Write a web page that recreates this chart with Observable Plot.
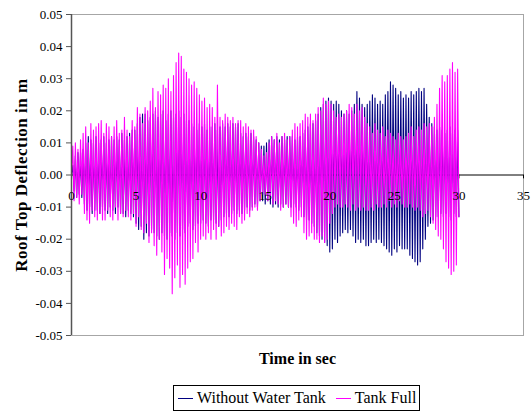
<!DOCTYPE html>
<html>
<head>
<meta charset="utf-8">
<script src="https://cdn.jsdelivr.net/npm/d3@7"></script>
<script src="https://cdn.jsdelivr.net/npm/@observablehq/plot@0.6"></script>
<style>
  body { margin: 0; background: #fff; font-family: "Times New Roman", "Liberation Serif", serif; }
  #legend {
    display: inline-flex; align-items: center; box-sizing: border-box;
    margin: 10px 0 0 173px; height: 26px; padding: 0 3px 0 4px;
    border: 1px solid #000; font-size: 16px; color: #000; white-space: nowrap;
  }
  #legend .item { display: inline-flex; align-items: center; margin-right: 10px; }
  #legend .item:last-child { margin-right: 0; }
  #legend .swatch { display: inline-block; width: 15px; height: 0; border-top: 1px solid; margin-right: 4px; }
  #chart svg text { font-family: "Times New Roman", "Liberation Serif", serif; }
</style>
</head>
<body>
<div id="chart"></div>
<div id="legend"></div>
<script>
// Roof top deflection (m) sampled every dt seconds, 0 to 30 s
const dt = 0.1;

const withoutTank = [
  0, 0.003, -0.005, 0.006, -0.007, 0.007, -0.006, 0.007, -0.007, 0.008,
  -0.009, 0.010, -0.011, 0.012, -0.010, 0.011, -0.012, 0.010, -0.011, 0.012,
  -0.011, 0.010, -0.012, 0.011, -0.010, 0.012, -0.011, 0.010, -0.012, 0.011,
  -0.010, 0.012, -0.011, 0.011, -0.012, 0.012, -0.010, 0.011, -0.012, 0.013,
  -0.012, 0.011, -0.013, 0.012, -0.011, 0.013, -0.012, 0.014, -0.013, 0.014,
  -0.015, 0.016, -0.017, 0.018, -0.016, 0.019, -0.020, 0.019, -0.018, 0.017,
  -0.019, 0.018, -0.017, 0.019, -0.018, 0.020, -0.019, 0.018, -0.020, 0.019,
  -0.018, 0.020, -0.019, 0.017, -0.020, 0.019, -0.018, 0.020, -0.019, 0.018,
  -0.020, 0.019, -0.018, 0.020, -0.019, 0.018, -0.017, 0.019, -0.018, 0.017,
  -0.016, 0.017, -0.015, 0.016, -0.017, 0.015, -0.016, 0.014, -0.015, 0.016,
  -0.015, 0.015, -0.014, 0.016, -0.015, 0.014, -0.016, 0.015, -0.014, 0.015,
  -0.014, 0.016, -0.015, 0.014, -0.016, 0.015, -0.014, 0.016, -0.013, 0.015,
  -0.012, 0.016, -0.013, 0.015, -0.012, 0.016, -0.011, 0.015, -0.012, 0.016,
  -0.011, 0.013, -0.012, 0.012, -0.011, 0.013, -0.010, 0.012, -0.011, 0.013,
  -0.010, 0.012, -0.009, 0.011, -0.010, 0.010, -0.008, 0.009, -0.008, 0.009,
  -0.009, 0.010, -0.008, 0.011, -0.009, 0.012, -0.010, 0.011, -0.009, 0.012,
  -0.010, 0.011, -0.009, 0.012, -0.010, 0.011, -0.009, 0.012, -0.010, 0.012,
  -0.010, 0.012, -0.009, 0.011, -0.010, 0.012, -0.011, 0.012, -0.010, 0.013,
  -0.013, 0.014, -0.014, 0.015, -0.014, 0.016, -0.015, 0.016, -0.016, 0.017,
  -0.018, 0.019, -0.019, 0.021, -0.020, 0.022, -0.021, 0.023, -0.022, 0.024,
  -0.024, 0.023, -0.023, 0.022, -0.020, 0.023, -0.021, 0.022, -0.019, 0.020,
  -0.018, 0.019, -0.017, 0.020, -0.018, 0.019, -0.017, 0.020, -0.019, 0.022,
  -0.021, 0.026, -0.020, 0.024, -0.021, 0.022, -0.020, 0.021, -0.022, 0.022,
  -0.022, 0.023, -0.021, 0.025, -0.020, 0.024, -0.021, 0.022, -0.020, 0.023,
  -0.021, 0.022, -0.022, 0.025, -0.023, 0.026, -0.024, 0.029, -0.025, 0.028,
  -0.023, 0.027, -0.024, 0.025, -0.022, 0.026, -0.023, 0.024, -0.023, 0.025,
  -0.023, 0.024, -0.025, 0.026, -0.026, 0.025, -0.027, 0.026, -0.028, 0.027,
  -0.027, 0.026, -0.023, 0.027, -0.020, 0.022, -0.016, 0.018, -0.015, 0.016,
  -0.014, 0.015, -0.013, 0.014, -0.013, 0.015, -0.012, 0.014, -0.013, 0.013,
  -0.012, 0.014, -0.013, 0.015, -0.014, 0.013, -0.012, 0.014, -0.013, 0.014,
  -0.013
];

const tankFull = [
  0, 0.009, -0.008, 0.010, -0.007, 0.008, -0.009, 0.011, -0.006, 0.013,
  -0.012, 0.015, -0.014, 0.010, -0.015, 0.016, -0.011, 0.014, -0.013, 0.015,
  -0.014, 0.016, -0.012, 0.017, -0.014, 0.013, -0.014, 0.016, -0.011, 0.015,
  -0.013, 0.012, -0.014, 0.015, -0.010, 0.017, -0.014, 0.013, -0.012, 0.014,
  -0.013, 0.018, -0.011, 0.014, -0.013, 0.012, -0.014, 0.017, -0.012, 0.015,
  -0.016, 0.021, -0.013, 0.019, -0.017, 0.016, -0.018, 0.021, -0.015, 0.020,
  -0.021, 0.023, -0.018, 0.027, -0.022, 0.021, -0.025, 0.026, -0.020, 0.025,
  -0.024, 0.028, -0.031, 0.027, -0.026, 0.030, -0.029, 0.026, -0.037, 0.031,
  -0.032, 0.035, -0.028, 0.038, -0.035, 0.037, -0.031, 0.033, -0.034, 0.032,
  -0.029, 0.030, -0.027, 0.028, -0.026, 0.029, -0.021, 0.027, -0.024, 0.025,
  -0.020, 0.023, -0.019, 0.024, -0.020, 0.021, -0.018, 0.022, -0.020, 0.021,
  -0.017, 0.018, -0.020, 0.028, -0.016, 0.018, -0.019, 0.017, -0.018, 0.019,
  -0.016, 0.018, -0.017, 0.017, -0.015, 0.018, -0.016, 0.016, -0.017, 0.017,
  -0.013, 0.017, -0.015, 0.015, -0.014, 0.016, -0.012, 0.015, -0.013, 0.014,
  -0.011, 0.014, -0.010, 0.012, -0.011, 0.010, -0.008, 0.008, -0.006, 0.006,
  -0.006, 0.007, -0.008, 0.010, -0.007, 0.012, -0.009, 0.011, -0.008, 0.013,
  -0.009, 0.010, -0.011, 0.012, -0.010, 0.013, -0.009, 0.011, -0.010, 0.012,
  -0.013, 0.014, -0.015, 0.016, -0.016, 0.015, -0.014, 0.016, -0.013, 0.017,
  -0.018, 0.019, -0.020, 0.018, -0.019, 0.019, -0.018, 0.017, -0.020, 0.019,
  -0.020, 0.021, -0.021, 0.020, -0.019, 0.024, -0.021, 0.022, -0.020, 0.023,
  -0.015, 0.022, -0.012, 0.020, -0.010, 0.018, -0.009, 0.019, -0.010, 0.018,
  -0.010, 0.019, -0.009, 0.020, -0.010, 0.022, -0.011, 0.021, -0.009, 0.019,
  -0.011, 0.022, -0.010, 0.020, -0.011, 0.021, -0.010, 0.018, -0.011, 0.016,
  -0.011, 0.015, -0.010, 0.013, -0.011, 0.016, -0.009, 0.014, -0.010, 0.013,
  -0.010, 0.015, -0.009, 0.012, -0.010, 0.014, -0.008, 0.013, -0.010, 0.012,
  -0.009, 0.011, -0.010, 0.013, -0.008, 0.012, -0.009, 0.011, -0.010, 0.012,
  -0.010, 0.013, -0.009, 0.015, -0.010, 0.012, -0.011, 0.014, -0.010, 0.015,
  -0.011, 0.014, -0.013, 0.016, -0.012, 0.015, -0.011, 0.016, -0.013, 0.015,
  -0.015, 0.018, -0.017, 0.022, -0.019, 0.027, -0.020, 0.031, -0.023, 0.029,
  -0.027, 0.031, -0.029, 0.033, -0.031, 0.035, -0.030, 0.032, -0.028, 0.033,
  -0.013
];

const xTicks = [0, 5, 10, 15, 20, 25, 30, 35];
const yTicks = [-0.05, -0.04, -0.03, -0.02, -0.01, 0, 0.01, 0.02, 0.03, 0.04, 0.05];
const seriesNames = ["Without Water Tank", "Tank Full"];
const seriesColors = ["#000080", "#ff00ff"];
const xTitle = "Time in sec";
const yTitle = "Roof Top Deflection in m";
const serif = "Times New Roman, Liberation Serif, serif";

const toRows = (values) => values.map((v, i) => ({t: i * dt, v}));

const chart = Plot.plot({
  width: 532,
  height: 375,
  marginTop: 14,
  marginBottom: 40,
  marginLeft: 71,
  marginRight: 9,
  style: {fontSize: "13px", color: "#000", background: "#fff"},
  x: {domain: [0, 35], axis: null},
  y: {domain: [-0.05, 0.05], axis: null},
  marks: [
    Plot.frame({stroke: "#a6a6a6"}),
    Plot.ruleY([0], {stroke: "#000"}),
    Plot.ruleX(xTicks, {y1: 0, y2: -0.0012, stroke: "#000"}),
    Plot.line(toRows(withoutTank), {x: "t", y: "v", stroke: seriesColors[0], strokeWidth: 1.1}),
    Plot.line(toRows(tankFull), {x: "t", y: "v", stroke: seriesColors[1], strokeWidth: 1.1}),
    Plot.ruleX([0], {stroke: "#555", strokeWidth: 1.5}),
    Plot.axisY(yTicks, {tickSize: 5, tickPadding: 4, tickFormat: (d) => d.toFixed(2), stroke: "#555", fill: "#000", fontFamily: serif, fontSize: 13, label: null}),
    Plot.text(xTicks, {x: (d) => d, y: 0, dy: 21, text: (d) => String(d), fill: "#000", fontFamily: serif, fontSize: 13}),
    Plot.text([xTitle], {frameAnchor: "bottom", dy: 28, fontWeight: "bold", fontSize: 16, fontFamily: serif, fill: "#000"}),
    Plot.text([yTitle], {frameAnchor: "left", textAnchor: "middle", dx: -50, rotate: -90, fontWeight: "bold", fontSize: 17, fontFamily: serif, fill: "#000"})
  ]
});
document.getElementById("chart").appendChild(chart);

// slightly open tracking on the vertical axis title
d3.select(chart).selectAll("text")
  .filter(function () { return this.textContent === yTitle; })
  .attr("letter-spacing", 0.5);

const legend = document.getElementById("legend");
seriesNames.forEach((name, i) => {
  const item = document.createElement("span");
  item.className = "item";
  const sw = document.createElement("span");
  sw.className = "swatch";
  sw.style.borderTopColor = seriesColors[i];
  item.appendChild(sw);
  item.appendChild(document.createTextNode(name));
  legend.appendChild(item);
});
</script>
</body>
</html>
